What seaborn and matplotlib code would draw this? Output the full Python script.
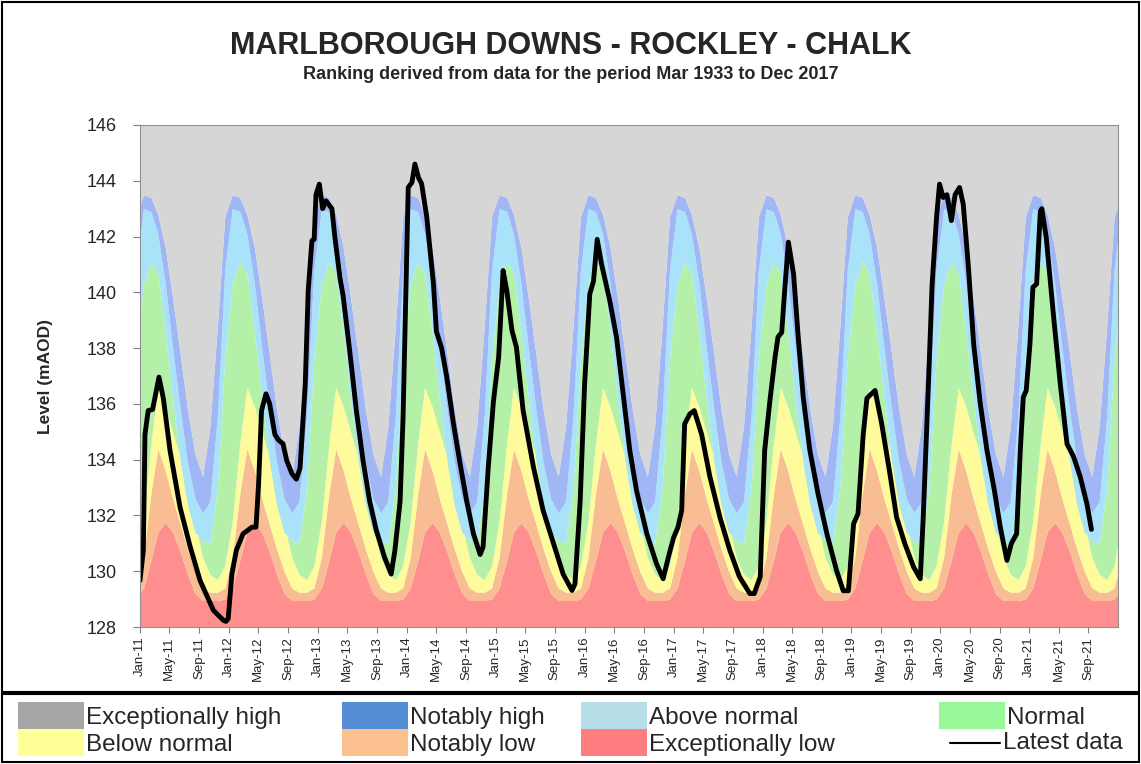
import numpy as np
import pandas as pd
import matplotlib
matplotlib.use('Agg')
import matplotlib.pyplot as plt
from matplotlib.patches import Rectangle
from matplotlib.lines import Line2D
import seaborn as sns

# band boundaries, mid-month climatology (Jan..Dec), mAOD
exc_low_top = [129.4, 130.4, 131.4, 131.75, 131.4, 130.7, 129.9, 129.2, 128.95, 128.95, 128.95, 129.0]
not_low_top = [130.5, 132.8, 134.4, 133.6, 132.6, 131.7, 130.8, 130.0, 129.4, 129.25, 129.25, 129.4]
below_top = [131.8, 134.6, 136.6, 135.9, 135.0, 134.1, 133.0, 131.7, 130.5, 129.9, 129.7, 130.2]
normal_top = [140.3, 141.1, 140.7, 138.6, 136.2, 134.0, 132.4, 131.4, 131.1, 131.0, 133.0, 137.6]
above_top = [143.0, 142.9, 142.1, 140.3, 138.0, 135.8, 133.9, 132.6, 132.1, 132.5, 135.6, 140.8]
not_high_top = [143.5, 143.4, 142.8, 141.6, 139.8, 137.8, 135.8, 134.2, 133.4, 135.2, 138.8, 142.7]

# latest data: months since Jan 2011, level (mAOD)
latest_month = [0, 0.45, 0.67, 1.1, 1.7, 2.0, 2.56, 3.15, 4.05, 5.4, 6.75, 8.1, 9.9, 11.25, 11.6,
                11.9, 12.4, 13.0, 13.9, 15.1, 15.65, 16.0, 16.4, 17.0, 17.5, 18.2, 18.7, 19.3, 19.8,
                20.5, 21.1, 21.6, 22.3, 22.7, 23.2, 23.5, 23.75, 24.2, 24.65, 25.1, 25.9, 26.3, 27.0,
                27.4, 28.3, 29.2, 30.1, 31.0, 31.9, 33.0, 33.9, 34.4, 35.1, 35.5, 35.9, 36.2, 36.7,
                37.1, 37.6, 38.0, 38.7, 39.6, 40.0, 40.7, 41.4, 42.3, 43.2, 44.1, 45.0, 45.9, 46.3,
                47.0, 47.7, 48.4, 49.0, 49.5, 50.2, 50.8, 51.7, 53.1, 54.4, 55.8, 57.1, 58.3, 58.7,
                59.4, 60.0, 60.7, 61.2, 61.7, 62.3, 63.4, 64.3, 65.2, 66.1, 67.0, 68.4, 69.7, 70.6,
                71.3, 72.0, 72.6, 73.1, 73.5, 74.2, 74.8, 75.8, 76.9, 78.3, 79.6, 80.9, 82.3, 82.9,
                83.7, 84.3, 85.0, 85.7, 86.1, 86.6, 87.0, 87.5, 88.2, 88.8, 89.5, 90.4, 91.5, 92.7,
                94.0, 94.9, 95.6, 96.3, 96.9, 97.6, 98.1, 98.7, 99.2, 100.1, 101.2, 102.1, 103.2,
                104.4, 105.3, 105.7, 106.4, 106.9, 107.5, 107.9, 108.4, 108.9, 109.5, 110.0, 110.6,
                111.1, 111.8, 112.5, 113.4, 114.3, 115.3, 116.1, 117.0, 117.6, 118.3, 118.8, 119.2,
                119.6, 120.1, 120.5, 121.0, 121.5, 121.7, 122.3, 123.3, 124.2, 125.1, 126.0, 126.9,
                127.8, 128.4]
latest_level = [129.67, 130.75, 134.9, 135.76, 135.8, 136.2, 136.96, 136.2, 134.33, 132.3, 130.9,
                129.67, 128.6, 128.24, 128.2, 128.3, 129.9, 130.75, 131.34, 131.58, 131.58, 133.1,
                135.76, 136.36, 136.0, 134.9, 134.7, 134.57, 133.97, 133.5, 133.3, 133.7, 136.7,
                140.06, 141.85, 141.9, 143.5, 143.88, 143.0, 143.28, 143.0, 141.97, 140.5, 139.9,
                137.9, 135.76, 133.97, 132.5, 131.46, 130.5, 129.9, 130.75, 132.5, 135.5, 140.3,
                143.76, 143.94, 144.6, 144.1, 143.9, 142.7, 140.3, 138.6, 138.0, 136.96, 135.3,
                133.85, 132.5, 131.34, 130.6, 130.87, 133.73, 136.1, 137.67, 140.78, 140.06, 138.63,
                138.03, 135.76, 133.73, 132.18, 131.0, 129.9, 129.31, 129.55, 132.5, 136.7, 139.94,
                140.4, 141.9, 141.0, 139.7, 138.4, 136.36, 134.33, 132.9, 131.34, 130.27, 129.73,
                130.5, 131.2, 131.58, 132.18, 135.28, 135.64, 135.76, 134.9, 133.4, 131.9, 130.75,
                129.8, 129.2, 129.2, 129.8, 134.33, 136.1, 137.67, 138.4, 138.56, 140.06, 141.8,
                140.66, 138.5, 136.24, 134.33, 132.78, 131.34, 130.03, 129.3, 129.3, 131.7, 132.06,
                134.9, 136.2, 136.36, 136.48, 135.28, 133.5, 131.94, 131.0, 130.15, 129.73, 131.94,
                136.7, 140.3, 142.7, 143.88, 143.4, 143.5, 142.57, 143.5, 143.76, 143.16, 140.9,
                138.15, 136.0, 134.33, 132.9, 131.58, 130.39, 131.0, 131.34, 134.33, 136.24, 136.48,
                138.15, 140.18, 140.3, 142.9, 143.0, 141.97, 139.1, 136.7, 134.57, 134.1, 133.37,
                132.4, 131.5]

band_names = ['Exceptionally high', 'Notably high', 'Above normal', 'Normal',
              'Below normal', 'Notably low', 'Exceptionally low']
fill_colors = ['#d6d6d6', '#a0b6f5', '#a9e3f9', '#b5f0a9', '#fdfb9c', '#f8bd93', '#ff8e8e']
legend_colors = ['#a6a6a6', '#558ed5', '#b7dde8', '#98f898', '#ffff99', '#fac090', '#ff7c80']

sns.set_style('white')
plt.rcParams['font.family'] = ['Liberation Sans', 'DejaVu Sans']

fig = plt.figure(figsize=(11.41, 7.64), dpi=100)
ax = fig.add_axes([0.1227, 0.1793, 0.8573, 0.6571])

# climatology bands, repeated each year
clim_dates = pd.date_range('2010-12-01', '2022-02-01', freq='MS') + pd.Timedelta(days=14)
mi = clim_dates.month - 1
bounds = [np.array(b)[mi] for b in [exc_low_top, not_low_top, below_top, normal_top,
                                     above_top, not_high_top]]
lower = np.full(len(clim_dates), 120.0)
stack_colors = fill_colors[::-1]
for i, top in enumerate(bounds):
    ax.fill_between(clim_dates, lower, top, color=stack_colors[i], lw=0)
    lower = top
ax.fill_between(clim_dates, lower, 150, color=stack_colors[-1], lw=0)

dates = pd.Timestamp('2011-01-01') + pd.to_timedelta(np.array(latest_month) * 30.4375, unit='D')
latest = pd.DataFrame({'date': dates, 'level': latest_level})
sns.lineplot(data=latest, x='date', y='level', ax=ax, color='black', lw=3.5,
             sort=False, estimator=None)

ax.set_xlim(pd.Timestamp('2011-01-01'), pd.Timestamp('2022-01-01'))
ax.set_ylim(128, 146)
ax.set_yticks(np.arange(128, 147, 2))
ax.tick_params(axis='y', labelsize=13, length=5, color='#808080', direction='out', left=True, pad=12)
xt = pd.date_range('2011-01-01', '2021-09-01', freq='4MS')
ax.set_xticks(xt)
ax.set_xticklabels([d.strftime('%b-%y') for d in xt], rotation=90, fontsize=9.5)
ax.tick_params(axis='x', length=4, color='#808080', direction='out', bottom=True, pad=3)
ax.set_xlabel('')
ax.set_ylabel('Level (mAOD)', fontsize=12.5, fontweight='bold', labelpad=24)
for s in ax.spines.values():
    s.set_color('#909090')
    s.set_linewidth(0.8)

fig.text(0.5, 0.940, 'MARLBOROUGH DOWNS - ROCKLEY - CHALK', ha='center', va='center',
         fontsize=22, fontweight='bold')
fig.text(0.5, 0.903, 'Ranking derived from data for the period Mar 1933 to Dec 2017',
         ha='center', va='center', fontsize=13, fontweight='bold')

# frames
fig.add_artist(Rectangle((0.002, 0.094), 0.996, 0.903, transform=fig.transFigure,
                         fill=False, ec='black', lw=1.5))
fig.add_artist(Rectangle((0.002, 0.002), 0.996, 0.089, transform=fig.transFigure,
                         fill=False, ec='black', lw=1.5))

# legend
W, H = 1141, 764
legend_items = [
    ('Exceptionally high', legend_colors[0], 18, 702), ('Notably high', legend_colors[1], 342, 702),
    ('Above normal', legend_colors[2], 581, 702), ('Normal', legend_colors[3], 939, 702),
    ('Below normal', legend_colors[4], 18, 729), ('Notably low', legend_colors[5], 342, 729),
    ('Exceptionally low', legend_colors[6], 581, 729),
]
for label, col, px, py in legend_items:
    fig.add_artist(Rectangle((px / W, 1 - (py + 27) / H), 66 / W, 27 / H,
                             transform=fig.transFigure, color=col, lw=0))
    fig.text((px + 68) / W, 1 - (py + 16) / H, label, ha='left', va='center', fontsize=17.5)
fig.add_artist(Line2D([950 / W, 1000 / W], [1 - 743 / H, 1 - 743 / H],
                      transform=fig.transFigure, color='black', lw=1.5))
fig.text(1003 / W, 1 - 743 / H, 'Latest data', ha='left', va='center', fontsize=17.5)

fig.savefig('out.png', dpi=100)
